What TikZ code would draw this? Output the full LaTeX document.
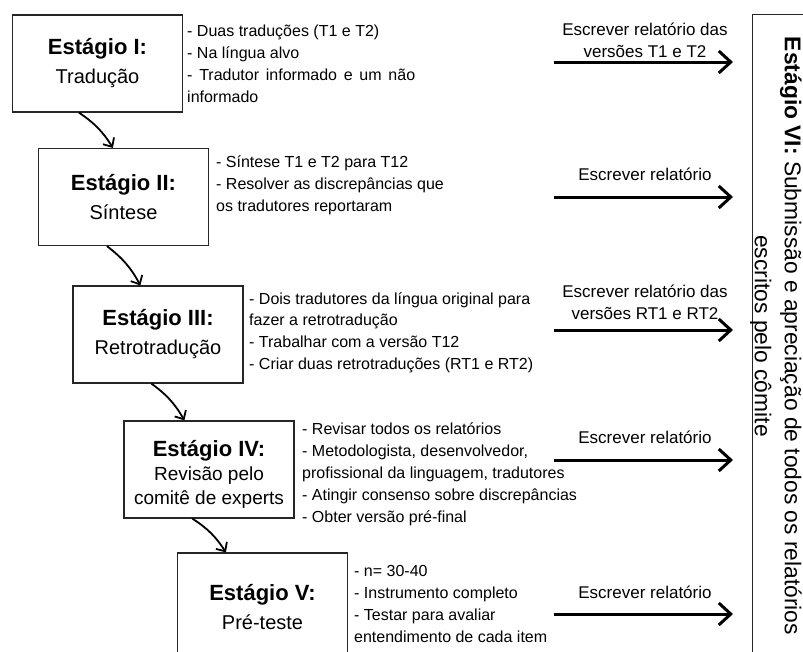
\documentclass[tikz,border=0pt]{standalone}
\usepackage{fontspec}
\setmainfont{Liberation Sans}
\usetikzlibrary{arrows.meta,calc}
\begin{document}
\begin{tikzpicture}[x=1pt,y=-1pt,
  stagebox/.style={draw=black!85,line width=1.2pt,minimum width=170pt,minimum height=97pt,inner sep=0pt,align=center,font=\fontsize{20}{29}\selectfont},
  boxtext/.style={align=center,inner sep=0pt,font=\fontsize{19}{24}\selectfont},
  note/.style={anchor=base west,inner sep=0pt,font=\fontsize{16}{22}\selectfont},
  replabel/.style={anchor=base,inner sep=0pt,font=\fontsize{17}{22}\selectfont},
  reparrow/.style={line width=3pt,-{Straight Barb[length=12pt,width=22pt]}},
  flowarrow/.style={line width=1.8pt,-{Straight Barb[length=7pt,width=13pt]},bend left=12}
]
\useasboundingbox (0,0) rectangle (803,651);
\clip (0,0) rectangle (803,651);

% stage boxes
\node[stagebox] (s1) at (97.5,63.5) {{\bfseries\fontsize{22}{29}\selectfont Estágio I:}\\Tradução};
\node[stagebox] (s2) at (123.5,197) {{\bfseries\fontsize{22}{29}\selectfont Estágio II:}\\Síntese};
\node[stagebox] (s3) at (158,334.5) {{\bfseries\fontsize{22}{29}\selectfont Estágio III:}\\Retrotradução};
\node[stagebox] (s4) at (209,469.5) {};
\node[boxtext] (s4t) at ([yshift=-5pt]s4.center) {{\bfseries\fontsize{22}{24}\selectfont Estágio IV:}\\Revisão pelo\\comitê de experts};
\node[stagebox,minimum height=108pt] (s5) at (262.5,607) {{\bfseries\fontsize{22}{29}\selectfont Estágio V:}\\Pré-teste};

% notes
\node[note] (n1) at (187,36) {\begin{tabular}[t]{@{}l@{}}- Duas traduções (T1 e T2)\\- Na língua alvo\\\makebox[228pt][s]{- Tradutor informado e um não}\\informado\end{tabular}};
\node[note] (n2) at (216,167) {\begin{tabular}[t]{@{}l@{}}- Síntese T1 e T2 para T12\\- Resolver as discrepâncias que\\os tradutores reportaram\end{tabular}};
\node[note,font=\fontsize{16}{21.7}\selectfont] (n3) at (249,304) {\begin{tabular}[t]{@{}l@{}}- Dois tradutores da língua original para\\fazer a retrotradução\\- Trabalhar com a versão T12\\- Criar duas retrotraduções (RT1 e RT2)\end{tabular}};
\node[note] (n4) at (302,434) {\begin{tabular}[t]{@{}l@{}}- Revisar todos os relatórios\\- Metodologista, desenvolvedor,\\profissional da linguagem, tradutores\\- Atingir consenso sobre discrepâncias\\- Obter versão pré-final\end{tabular}};
\node[note] (n5) at (354,576) {\begin{tabular}[t]{@{}l@{}}- n= 30-40\\- Instrumento completo\\- Testar para avaliar\\entendimento de cada item\end{tabular}};

% flow arrows
\draw[flowarrow] ([xshift=67pt]s1.south west) to ([xshift=75pt]s2.north west);
\draw[flowarrow] ([xshift=69pt]s2.south west) to ([xshift=68pt]s3.north west);
\draw[flowarrow] ([xshift=79pt]s3.south west) to ([xshift=61pt]s4.north west);
\draw[flowarrow] ([xshift=69pt]s4.south west) to ([xshift=49pt]s5.north west);

% stage VI
\node[draw=black!85,line width=0.9pt,minimum width=62pt,minimum height=650pt,inner sep=0pt] (s6) at (783,339) {};
\node[rotate=-90,align=center,inner sep=0pt,font=\fontsize{22.8}{30}\selectfont] (t6) at (776,336) {\textbf{Estágio VI:} Submissão e apreciação de todos os relatórios\\escritos pelo cômite};

% report arrows
\foreach \i/\y in {1/62,2/197,3/330,4/460,5/614}{
  \coordinate (a\i s) at (554,\y);
  \coordinate (a\i e) at (733,\y);
}
\draw[reparrow] (a1s) -- (a1e);
\draw[reparrow] (a2s) -- (a2e);
\draw[reparrow] (a3s) -- (a3e);
\draw[reparrow] (a4s) -- (a4e);
\draw[reparrow] (a5s) -- (a5e);

\node[replabel] (l1) at (645,35) {\begin{tabular}[t]{@{}c@{}}Escrever relatório das\\versões T1 e T2\end{tabular}};
\node[replabel] (l2) at (645,180) {Escrever relatório};
\node[replabel] (l3) at (645,297) {\begin{tabular}[t]{@{}c@{}}Escrever relatório das\\versões RT1 e RT2\end{tabular}};
\node[replabel] (l4) at (645,443) {Escrever relatório};
\node[replabel] (l5) at (645,598) {Escrever relatório};
\end{tikzpicture}
\end{document}
